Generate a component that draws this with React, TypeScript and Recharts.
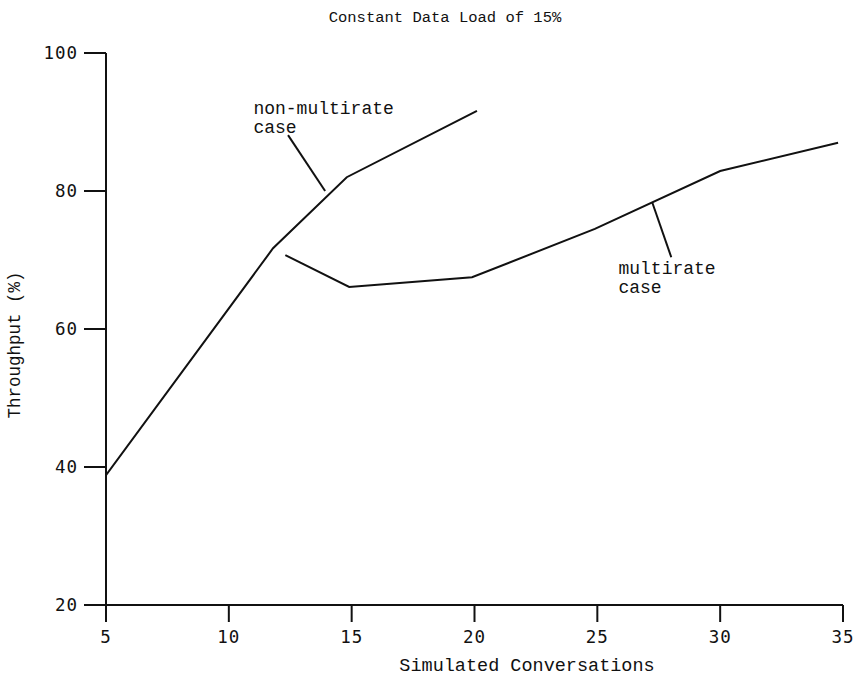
import React from "react";
import {
  LineChart,
  Line,
  XAxis,
  YAxis,
  ReferenceLine,
  ReferenceDot,
  Label,
} from "recharts";

const titleText = "Constant Data Load of 15%";
const xLabel = "Simulated Conversations";
const yLabel = "Throughput (%)";

const xTicks = [5, 10, 15, 20, 25, 30, 35];
const yTicks = [20, 40, 60, 80, 100];

const nonMultirateX = [5, 11.8, 14.8, 20.1];
const nonMultirateY = [38.8, 71.7, 82.0, 91.6];

const multirateX = [12.3, 14.9, 19.9, 24.9, 30.0, 34.8];
const multirateY = [70.7, 66.1, 67.5, 74.5, 82.9, 87.0];

const nonMultirateLabel = ["non-multirate", "case"];
const multirateLabel = ["multirate", "case"];

const nonMultirateLeader = [
  { x: 12.41, y: 88.1 },
  { x: 13.92, y: 80.0 },
];
const multirateLeader = [
  { x: 27.24, y: 78.3 },
  { x: 28.01, y: 70.4 },
];

const nonMultirateData = nonMultirateX.map((x, i) => ({ x, y: nonMultirateY[i] }));
const multirateData = multirateX.map((x, i) => ({ x, y: multirateY[i] }));

const MONO = "'Liberation Mono', 'DejaVu Sans Mono', monospace";
const DIGITS = "'DejaVu Sans Mono', monospace";
const INK = "#111";

const twoLine = (lines: string[]) => (props: any) => {
  const vb = props.viewBox || {};
  const x = vb.x ?? 0;
  const y = vb.y ?? 0;
  return (
    <text x={x} y={y} fontFamily={MONO} fontSize={18} fill={INK}>
      {lines.map((t, i) => (
        <tspan key={i} x={x} dy={i === 0 ? 0 : 19}>
          {t}
        </tspan>
      ))}
    </text>
  );
};

const XTick = (props: any) => {
  const { x, y, payload } = props;
  return (
    <text x={x} y={y + 13} textAnchor="middle" fontFamily={DIGITS} fontSize={17.5} fill={INK} letterSpacing={1}>
      {payload.value}
    </text>
  );
};

const YTick = (props: any) => {
  const { x, y, payload } = props;
  return (
    <text x={x} y={y + 6} textAnchor="end" fontFamily={DIGITS} fontSize={17.5} fill={INK} letterSpacing={1}>
      {payload.value}
    </text>
  );
};

export default function App() {
  return (
    <div style={{ position: "absolute", left: 0, top: 0, width: 859, height: 676, background: "#fff" }}>
      <LineChart
        width={859}
        height={676}
        margin={{ top: 53, right: 16, bottom: 0, left: 0 }}
      >
        <text x={445} y={22} textAnchor="middle" fontFamily={MONO} fontSize={15.5} fill={INK}>
          {titleText}
        </text>
        <XAxis
          dataKey="x"
          type="number"
          domain={[5, 35]}
          ticks={xTicks}
          allowDataOverflow
          height={71}
          tickSize={17}
          tickMargin={8}
          stroke={INK}
          strokeWidth={2}
          tick={<XTick />}
        >
          <Label
            content={() => (
              <text x={527} y={671} textAnchor="middle" fontFamily={MONO} fontSize={18.5} fill={INK}>
                {xLabel}
              </text>
            )}
          />
        </XAxis>
        <YAxis
          type="number"
          domain={[20, 100]}
          ticks={yTicks}
          allowDataOverflow
          width={106}
          tickSize={22}
          tickMargin={6}
          stroke={INK}
          strokeWidth={2}
          tick={<YTick />}
        >
          <Label
            content={() => (
              <text
                x={20}
                y={345}
                textAnchor="middle"
                transform="rotate(-90 20 345)"
                fontFamily={MONO}
                fontSize={17.5}
                fill={INK}
              >
                {yLabel}
              </text>
            )}
          />
        </YAxis>
        <Line
          data={nonMultirateData}
          dataKey="y"
          stroke={INK}
          strokeWidth={2}
          dot={false}
          type="linear"
          isAnimationActive={false}
        />
        <Line
          data={multirateData}
          dataKey="y"
          stroke={INK}
          strokeWidth={2}
          dot={false}
          type="linear"
          isAnimationActive={false}
        />
        <ReferenceLine
          segment={nonMultirateLeader}
          stroke={INK}
          strokeWidth={2}
          ifOverflow="visible"
        />
        <ReferenceLine
          segment={multirateLeader}
          stroke={INK}
          strokeWidth={2}
          ifOverflow="visible"
        />
        <ReferenceDot
          x={11.0}
          y={91.2}
          r={0}
          ifOverflow="visible"
          label={{ content: twoLine(nonMultirateLabel) }}
        />
        <ReferenceDot
          x={25.86}
          y={68.0}
          r={0}
          ifOverflow="visible"
          label={{ content: twoLine(multirateLabel) }}
        />
      </LineChart>
    </div>
  );
}
